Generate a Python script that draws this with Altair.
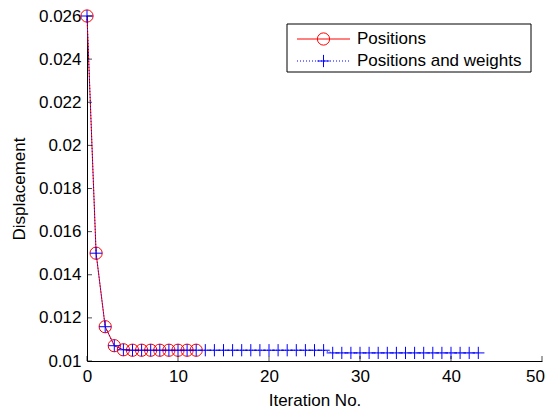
import altair as alt
import pandas as pd

# ---- data ----
iter_pos = [0, 1, 2, 3, 4, 5, 6, 7, 8, 9, 10, 11, 12]
disp_pos = [0.0260, 0.0150, 0.01159, 0.01071, 0.01052, 0.0105, 0.0105,
            0.0105, 0.0105, 0.0105, 0.0105, 0.0105, 0.0105]

iter_pw = list(range(0, 44))
disp_pw = [0.0260, 0.0150, 0.01159, 0.01071, 0.01052,
           0.0105, 0.0105, 0.0105, 0.0105, 0.0105, 0.0105, 0.0105, 0.0105,
           0.0105, 0.0105, 0.0105, 0.0105, 0.0105, 0.0105, 0.0105, 0.0105,
           0.0105, 0.0105, 0.0105, 0.0105, 0.0105, 0.0105,
           0.010375, 0.010375, 0.010375, 0.010375, 0.010375, 0.010375,
           0.010375, 0.010375, 0.010375, 0.010375, 0.010375, 0.010375,
           0.010375, 0.010375, 0.010375, 0.010375, 0.010375]

x_ticks = [0, 10, 20, 30, 40, 50]
y_ticks = [0.01, 0.012, 0.014, 0.016, 0.018, 0.02, 0.022, 0.024, 0.026]
legend_labels = ["Positions", "Positions and weights"]

W, H = 455, 345
FONT = "Liberation Sans"
FS = 17
RED = "#ff0000"
BLUE = "#0000ff"
PLUS = "M-1,0L1,0M0,-1L0,1"

df_pos = pd.DataFrame({"it": iter_pos, "d": disp_pos})
df_pw = pd.DataFrame({"it": iter_pw, "d": disp_pw})

xs = alt.Scale(domain=[0, 50], nice=False, zero=False)
ys = alt.Scale(domain=[0.01, 0.026], nice=False, zero=False)

x_axis = alt.Axis(values=x_ticks, grid=False, ticks=False, labelPadding=7,
                  labelFlush=False,
                  labelOffset={"condition": {"test": "datum.value == 50", "value": -7},
                               "value": 0},
                  title="Iteration No.", titleX=W / 2, titleY=44,
                  titleBaseline="alphabetic", titleAlign="center")
y_axis = alt.Axis(values=y_ticks, grid=False, ticks=False, format="~g",
                  labelPadding=6, labelBaseline="middle", labelFlush=False,
                  title="Displacement", titleX=-68, titleY=H / 2,
                  titleAngle=-90, titleAlign="center", titleBaseline="middle")


def X(f):
    return alt.X(f, scale=xs, axis=x_axis, title="Iteration No.")


def Y(f):
    return alt.Y(f, scale=ys, axis=y_axis, title="Displacement")


red_line = alt.Chart(df_pos).mark_line(color=RED, strokeWidth=1).encode(
    x=X("it:Q"), y=Y("d:Q"))
red_pts = alt.Chart(df_pos).mark_point(
    shape="circle", color=RED, filled=False, size=150, strokeWidth=1, opacity=1
).encode(x=X("it:Q"), y=Y("d:Q"))

blue_line = alt.Chart(df_pw).mark_line(color=BLUE, strokeWidth=1, strokeDash=[1, 2]).encode(
    x=X("it:Q"), y=Y("d:Q"))
blue_pts = alt.Chart(df_pw).mark_point(
    shape=PLUS, color=BLUE, filled=False, size=150, strokeWidth=1, opacity=1
).encode(x=X("it:Q"), y=Y("d:Q"))

# inward ticks (MATLAB style)
xt = alt.Chart(pd.DataFrame({"it": x_ticks})).mark_tick(
    orient="vertical", size=5, thickness=1, color="black"
).encode(x=X("it:Q"), y=alt.value(H - 2.5))
yt = alt.Chart(pd.DataFrame({"d": y_ticks})).mark_tick(
    orient="horizontal", size=5, thickness=1, color="black"
).encode(y=Y("d:Q"), x=alt.value(2.5))

# legend (drawn manually)
one = pd.DataFrame({"k": [0]})
lg_box = alt.Chart(one).mark_rect(fill="white", stroke="black", strokeWidth=1).encode(
    x=alt.value(200), x2=alt.value(444), y=alt.value(8), y2=alt.value(56)
)
lg_l1 = alt.Chart(one).mark_rule(color=RED, strokeWidth=1).encode(
    x=alt.value(210), x2=alt.value(263), y=alt.value(23)
)
lg_m1 = alt.Chart(one).mark_point(shape="circle", color=RED, filled=False, size=150,
                                  strokeWidth=1, opacity=1).encode(
    x=alt.value(236.5), y=alt.value(23)
)
lg_t1 = alt.Chart(pd.DataFrame({"label": [legend_labels[0]]})).mark_text(
    align="left", baseline="middle", font=FONT, fontSize=FS, color="black"
).encode(text="label:N", x=alt.value(270), y=alt.value(23))
lg_l2 = alt.Chart(one).mark_rule(color=BLUE, strokeWidth=1, strokeDash=[1, 2]).encode(
    x=alt.value(210), x2=alt.value(263), y=alt.value(45)
)
lg_m2 = alt.Chart(one).mark_point(shape=PLUS, color=BLUE, filled=False, size=150,
                                  strokeWidth=1, opacity=1).encode(
    x=alt.value(236.5), y=alt.value(45)
)
lg_t2 = alt.Chart(pd.DataFrame({"label": [legend_labels[1]]})).mark_text(
    align="left", baseline="middle", font=FONT, fontSize=FS, color="black"
).encode(text="label:N", x=alt.value(270), y=alt.value(45))

chart = alt.layer(
    red_line, red_pts, blue_line, blue_pts, xt, yt,
    lg_box, lg_l1, lg_m1, lg_t1, lg_l2, lg_m2, lg_t2
).properties(
    width=W, height=H,
    autosize=alt.AutoSizeParams(type="none"),
    padding={"left": 79, "top": 8, "right": 3, "bottom": 50},
    background="white",
).configure_view(stroke=None).configure_axis(
    domainColor="black", domainWidth=1, labelColor="black", titleColor="black",
    labelFont=FONT, labelFontSize=FS, titleFont=FONT, titleFontSize=FS,
    titleFontWeight="normal",
)

chart.save("out.html", embed_options={"renderer": "svg", "actions": False})
